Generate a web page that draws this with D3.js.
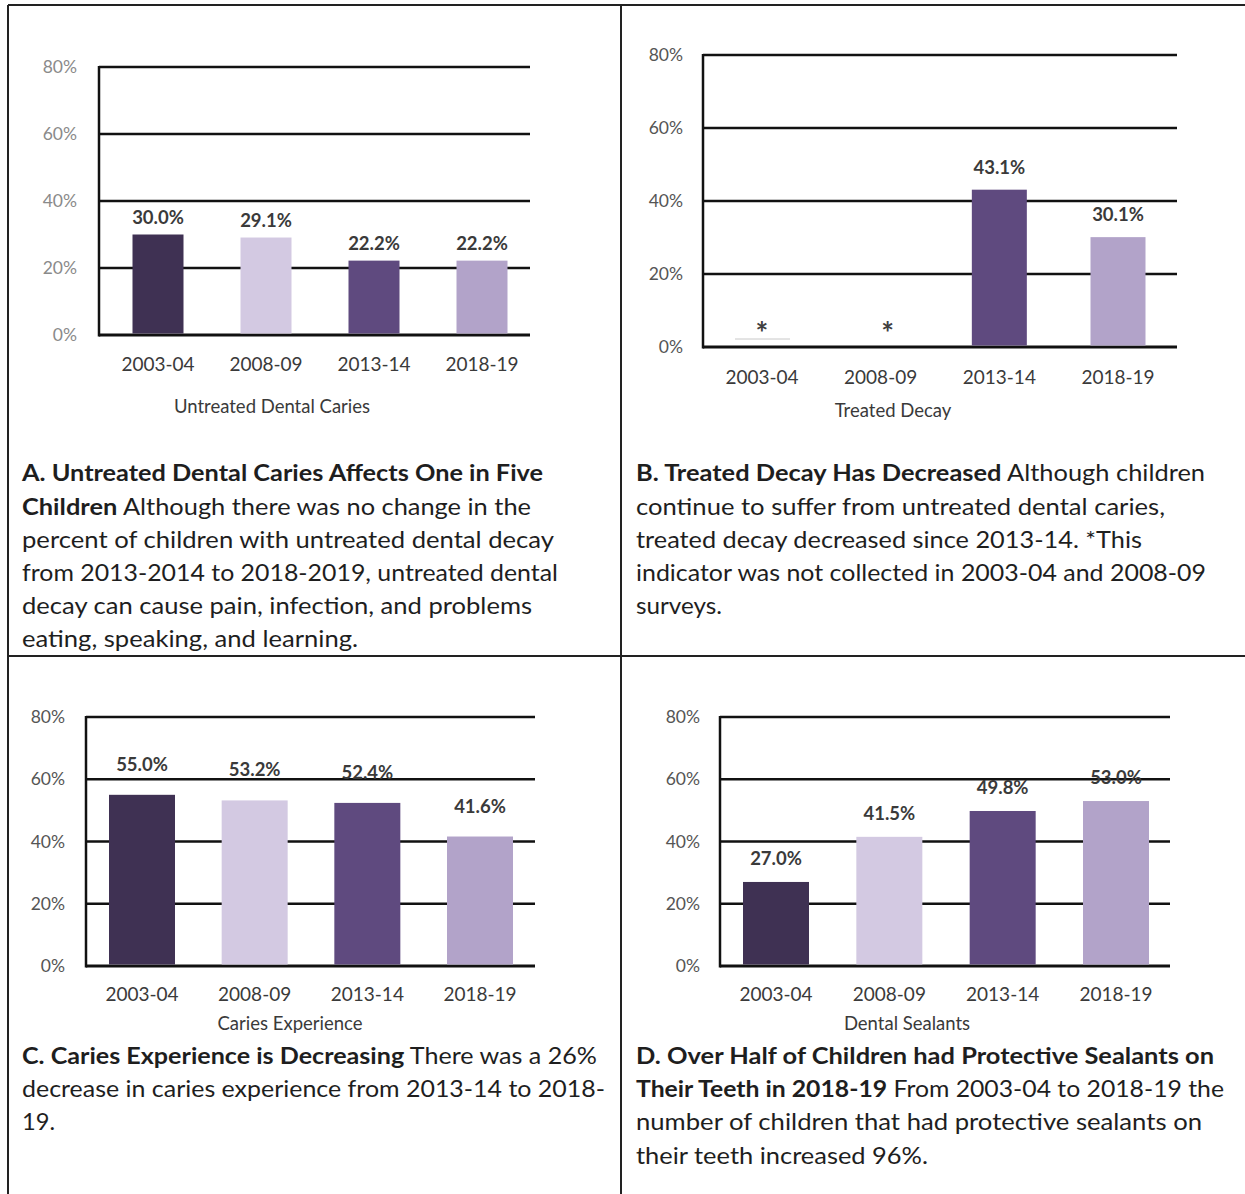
<!DOCTYPE html>
<html>
<head>
<meta charset="utf-8">
<script src="https://cdn.jsdelivr.net/npm/d3@7"></script>
<style>
  html, body { margin: 0; padding: 0; background: #fff; }
  svg { display: block; font-family: Lato, "Open Sans", sans-serif; }
</style>
</head>
<body>
<svg id="chart" width="1245" height="1194"></svg>
<script>
// ---- Data ----
const categories = ["2003-04", "2008-09", "2013-14", "2018-19"];
const untreatedCaries = [30.0, 29.1, 22.2, 22.2];
const treatedDecay = [null, null, 43.1, 30.1];
const cariesExperience = [55.0, 53.2, 52.4, 41.6];
const dentalSealants = [27.0, 41.5, 49.8, 53.0];
const yTicks = [0, 20, 40, 60, 80];
const yTickLabels = ["0%", "20%", "40%", "60%", "80%"];
const barColors = ["#3f3153", "#d3c9e2", "#5f4a7f", "#b2a3c9"];
const axisTitles = ["Untreated Dental Caries", "Treated Decay", "Caries Experience", "Dental Sealants"];

const captionA = [
  [["A. Untreated Dental Caries Affects One in Five", true]],
  [["Children", true], [" Although there was no change in the", false]],
  [["percent of children with untreated dental decay", false]],
  [["from 2013-2014 to 2018-2019, untreated dental", false]],
  [["decay can cause pain, infection, and problems", false]],
  [["eating, speaking, and learning.", false]]
];
const captionB = [
  [["B. Treated Decay Has Decreased", true], [" Although children", false]],
  [["continue to suffer from untreated dental caries,", false]],
  [["treated decay decreased since 2013-14. *This", false]],
  [["indicator was not collected in 2003-04 and 2008-09", false]],
  [["surveys.", false]]
];
const captionC = [
  [["C. Caries Experience is Decreasing", true], [" There was a 26%", false]],
  [["decrease in caries experience from 2013-14 to 2018-", false]],
  [["19.", false]]
];
const captionD = [
  [["D. Over Half of Children had Protective Sealants on", true]],
  [["Their Teeth in 2018-19", true], [" From 2003-04 to 2018-19 the", false]],
  [["number of children that had protective sealants on", false]],
  [["their teeth increased 96%.", false]]
];

// ---- Drawing ----
const svg = d3.select("#chart");

// frame
const frame = svg.append("g").attr("stroke", "#222").attr("stroke-width", 2).attr("fill", "none");
frame.append("line").attr("x1", 8).attr("x2", 1245).attr("y1", 5).attr("y2", 5);
frame.append("line").attr("x1", 8).attr("x2", 8).attr("y1", 5).attr("y2", 1194);
frame.append("line").attr("x1", 621).attr("x2", 621).attr("y1", 5).attr("y2", 1194);
frame.append("line").attr("x1", 8).attr("x2", 1245).attr("y1", 656).attr("y2", 656);

function drawPanel(cfg) {
  const g = svg.append("g");
  const y = d3.scaleLinear().domain([0, 80]).range([cfg.yBot, cfg.yTop]);
  const x = d3.scalePoint().domain(categories).range([cfg.c0, cfg.c1]);

  // gridlines
  g.selectAll("line.grid").data(yTicks).join("line")
    .attr("x1", cfg.axisX).attr("x2", cfg.gridEnd)
    .attr("y1", d => y(d)).attr("y2", d => y(d))
    .attr("stroke", "#111").attr("stroke-width", d => d === 0 ? 3 : 2.5);
  // y axis line
  g.append("line").attr("x1", cfg.axisX).attr("x2", cfg.axisX)
    .attr("y1", y(80) - 1).attr("y2", y(0) + 1.5)
    .attr("stroke", "#111").attr("stroke-width", 2.5);

  // tick labels
  g.selectAll("text.tick").data(yTicks).join("text")
    .attr("x", cfg.tickX).attr("y", d => y(d)).attr("dy", "0.35em")
    .attr("text-anchor", "end").attr("font-size", 17.5)
    .attr("fill", cfg.tickColor)
    .text((d, i) => yTickLabels[i]);

  // bars
  const data = cfg.values.map((v, i) => ({cat: categories[i], v, i}));
  g.selectAll("rect.bar").data(data.filter(d => d.v !== null)).join("rect")
    .attr("x", d => x(d.cat) - cfg.barW / 2)
    .attr("width", cfg.barW)
    .attr("y", d => y(d.v))
    .attr("height", d => y(0) - y(d.v) - 1.5)
    .attr("fill", d => barColors[d.i]);

  // value labels
  g.selectAll("text.val").data(data.filter(d => d.v !== null)).join("text")
    .attr("x", d => x(d.cat)).attr("y", d => y(d.v) - cfg.labelOff)
    .attr("text-anchor", "middle").attr("font-size", 18.5).attr("font-weight", 700)
    .attr("fill", "#3a3a3a")
    .text(d => d.v.toFixed(1) + "%");

  // asterisks for missing values
  g.selectAll("text.star").data(data.filter(d => d.v === null)).join("text")
    .attr("x", d => x(d.cat) + (d.i === 1 ? 7 : 0)).attr("y", y(0) - 13.5).attr("dy", "0.35em")
    .attr("text-anchor", "middle").attr("font-size", 30).attr("font-weight", 700)
    .attr("fill", "#404040").text("*");
  g.selectAll("line.stub").data(data.filter(d => d.v === null && d.i === 0)).join("line")
    .attr("x1", d => x(d.cat) - 27).attr("x2", d => x(d.cat) + 28)
    .attr("y1", y(0) - 8).attr("y2", y(0) - 8)
    .attr("stroke", "#c8c8c8").attr("stroke-width", 1);

  // category labels
  g.selectAll("text.cat").data(categories).join("text")
    .attr("x", d => x(d)).attr("y", cfg.catY).attr("dy", "0.35em")
    .attr("text-anchor", "middle").attr("font-size", 19)
    .attr("fill", "#3a3a3a").text(d => d);

  // axis title
  g.append("text").attr("x", cfg.titleX).attr("y", cfg.titleY).attr("dy", "0.35em")
    .attr("text-anchor", "middle").attr("font-size", 18.5)
    .attr("fill", "#3a3a3a").text(cfg.title);
}

drawPanel({values: untreatedCaries, yTop: 67, yBot: 335, axisX: 99, gridEnd: 530,
  c0: 158, c1: 482, barW: 51, tickX: 77, tickColor: "#8a8a8a", labelOff: 11,
  catY: 364, titleX: 272, titleY: 407, title: axisTitles[0]});
drawPanel({values: treatedDecay, yTop: 55, yBot: 347, axisX: 703, gridEnd: 1177,
  c0: 762, c1: 1118, barW: 55, tickX: 683, tickColor: "#555", labelOff: 16,
  catY: 377, titleX: 893, titleY: 411, title: axisTitles[1]});
drawPanel({values: cariesExperience, yTop: 717, yBot: 966, axisX: 86, gridEnd: 535,
  c0: 142, c1: 480, barW: 66, tickX: 65, tickColor: "#555", labelOff: 24,
  catY: 994, titleX: 290, titleY: 1024, title: axisTitles[2]});
drawPanel({values: dentalSealants, yTop: 717, yBot: 966, axisX: 720, gridEnd: 1170,
  c0: 776, c1: 1116, barW: 66, tickX: 700, tickColor: "#555", labelOff: 17,
  catY: 994, titleX: 907, titleY: 1024, title: axisTitles[3]});

// captions
function drawCaption(lines, x0, baselines, ends) {
  lines.forEach((segs, i) => {
    const t = svg.append("text")
      .attr("x", x0).attr("y", baselines[i])
      .attr("font-size", 23.5).attr("fill", "#1e1e1e")
      .attr("textLength", ends[i] - x0).attr("lengthAdjust", "spacingAndGlyphs");
    segs.forEach(s => {
      t.append("tspan").attr("font-weight", s[1] ? 700 : 400).text(s[0]);
    });
  });
}
drawCaption(captionA, 22, [481, 515, 548, 581, 614, 647], [543, 531, 554, 558, 532, 358]);
drawCaption(captionB, 636, [481, 515, 548, 581, 614], [1205, 1165, 1142, 1206, 722]);
drawCaption(captionC, 22, [1064, 1097, 1130], [597, 605, 55]);
drawCaption(captionD, 636, [1064, 1097, 1130, 1164], [1214, 1224, 1202, 928]);
</script>
</body>
</html>
